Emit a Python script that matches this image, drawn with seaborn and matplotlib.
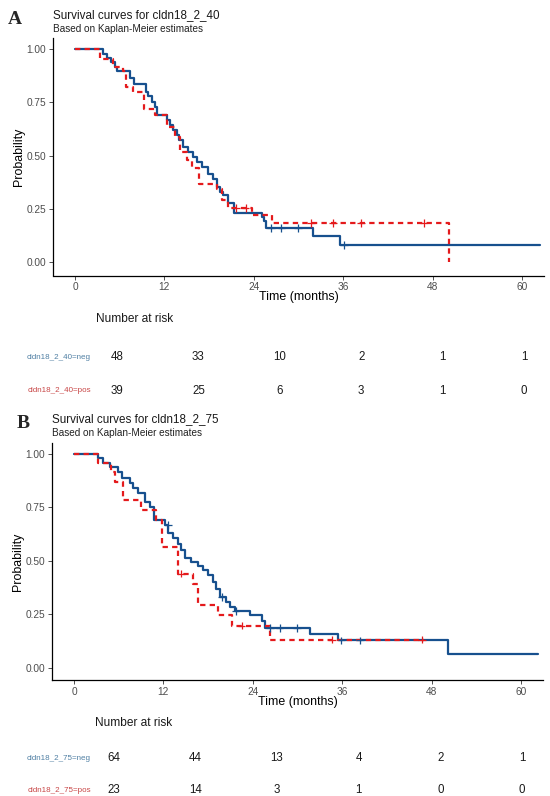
import matplotlib
matplotlib.use("Agg")
import matplotlib.pyplot as plt
import pandas as pd
import seaborn as sns

sns.set_theme(style="ticks")
plt.rcParams["font.family"] = ["Liberation Sans", "DejaVu Sans"]

W, H = 550, 796

# ---------------- data ----------------
# Panel A : cldn18_2_40
a_neg_time = [0, 3.7, 4.25, 4.9, 5.4, 5.7, 7.4, 7.9, 9.5, 9.8, 10.3, 10.7, 11.05,
              12.3, 12.75, 13.2, 13.65, 14.0, 14.45, 15.2, 15.9, 16.4, 17.1, 17.8,
              18.5, 19.0, 19.4, 19.9, 20.6, 21.3, 25.15, 25.4, 25.7, 31.9, 35.55, 62.4]
a_neg_surv = [1.0, 0.979, 0.958, 0.938, 0.917, 0.896, 0.866, 0.835, 0.80, 0.781, 0.753,
              0.729, 0.69, 0.667, 0.643, 0.62, 0.596, 0.573, 0.542, 0.518, 0.495, 0.471,
              0.448, 0.416, 0.39, 0.354, 0.33, 0.315, 0.276, 0.229, 0.213, 0.194, 0.161,
              0.122, 0.08, 0.08]
a_neg_cens_time = [26.3, 27.7, 29.9, 36.1]
a_neg_cens_surv = [0.161, 0.161, 0.161, 0.08]

a_pos_time = [0, 3.4, 5.1, 6.5, 6.9, 7.8, 9.2, 10.7, 12.3, 13.4, 14.1, 15.0, 15.7,
              16.6, 19.0, 19.7, 20.6, 23.7, 26.4, 50.2]
a_pos_surv = [1.0, 0.953, 0.917, 0.897, 0.823, 0.797, 0.721, 0.69, 0.635, 0.588, 0.518,
              0.479, 0.44, 0.369, 0.346, 0.291, 0.255, 0.22, 0.185, 0.0]
a_pos_cens_time = [21.6, 22.9, 31.7, 34.6, 38.4, 46.8]
a_pos_cens_surv = [0.255, 0.255, 0.185, 0.185, 0.185, 0.185]

# Panel B : cldn18_2_75
b_neg_time = [0, 3.25, 3.87, 4.77, 5.89, 6.47, 7.46, 7.9, 8.57, 9.47, 10.14, 10.8,
              12.16, 12.6, 13.3, 14.0, 14.4, 14.85, 15.75, 16.64, 17.3, 18.0, 18.7,
              19.1, 19.6, 20.45, 20.9, 21.6, 23.6, 25.2, 25.6, 31.65, 35.5, 50.2, 62.3]
b_neg_surv = [1.0, 0.978, 0.958, 0.939, 0.916, 0.888, 0.861, 0.838, 0.814, 0.775, 0.752,
              0.689, 0.666, 0.627, 0.604, 0.577, 0.549, 0.514, 0.494, 0.473, 0.455,
              0.431, 0.400, 0.369, 0.330, 0.306, 0.283, 0.264, 0.244, 0.220, 0.186,
              0.155, 0.127, 0.064, 0.064]
b_neg_cens_time = [12.6, 19.8, 21.7, 26.3, 27.6, 29.9, 35.9, 38.4]
b_neg_cens_surv = [0.666, 0.330, 0.264, 0.186, 0.186, 0.186, 0.127, 0.127]

b_pos_time = [0, 3.25, 5.0, 5.45, 6.6, 9.0, 11.0, 11.8, 14.0, 16.0, 16.65, 19.3, 21.2,
              26.3, 47.0]
b_pos_surv = [1.0, 0.957, 0.913, 0.870, 0.783, 0.739, 0.689, 0.565, 0.439, 0.392, 0.291,
              0.244, 0.196, 0.131, 0.131]
b_pos_cens_time = [14.4, 22.5, 34.6, 46.7]
b_pos_cens_surv = [0.439, 0.196, 0.131, 0.131]

# number at risk
risk_times = [0, 12, 24, 36, 48, 60]
a_risk_neg = [48, 33, 10, 2, 1, 1]
a_risk_pos = [39, 25, 6, 3, 1, 0]
b_risk_neg = [64, 44, 13, 4, 2, 1]
b_risk_pos = [23, 14, 3, 1, 0, 0]

x_ticks = [0, 12, 24, 36, 48, 60]
y_ticks = [0.0, 0.25, 0.50, 0.75, 1.0]

line_colors = {"neg": "#17508e", "pos": "#e41a1c"}
label_colors = {"neg": "#4f7fa3", "pos": "#c84646"}


def px_box(left, top, right, bottom):
    return [left / W, 1 - bottom / H, (right - left) / W, (bottom - top) / H]


def fy(y):
    return 1 - y / H


def km_panel(box, neg_t, neg_s, pos_t, pos_s, neg_ct, neg_cs, pos_ct, pos_cs, ylim):
    ax = fig.add_axes(box)
    curves = pd.concat([
        pd.DataFrame({"time": neg_t, "surv": neg_s, "group": "neg"}),
        pd.DataFrame({"time": pos_t, "surv": pos_s, "group": "pos"}),
    ])
    cens = pd.concat([
        pd.DataFrame({"time": neg_ct, "surv": neg_cs, "group": "neg"}),
        pd.DataFrame({"time": pos_ct, "surv": pos_cs, "group": "pos"}),
    ])
    sns.lineplot(data=curves, x="time", y="surv", hue="group", style="group",
                 palette=line_colors, dashes={"neg": "", "pos": (2.4, 1.9)},
                 drawstyle="steps-post", estimator=None, sort=False,
                 linewidth=1.6, legend=False, ax=ax)
    sns.scatterplot(data=cens, x="time", y="surv", hue="group", palette=line_colors,
                    marker="+", s=30, linewidth=0.9, legend=False, ax=ax, zorder=3)
    ax.set_xlim(-2.95, 62.95)
    ax.set_ylim(*ylim)
    ax.set_xticks(x_ticks)
    ax.set_yticks(y_ticks)
    ax.set_yticklabels([f"{v:.2f}" for v in y_ticks])
    for side in ["top", "right"]:
        ax.spines[side].set_visible(False)
    for side in ["left", "bottom"]:
        ax.spines[side].set_linewidth(0.9)
        ax.spines[side].set_color("black")
    ax.tick_params(labelsize=7.3, labelcolor="#4d4d4d", color="#333333",
                   length=3, width=0.6, pad=1.8)
    ax.set_xlabel("Time (months)", fontsize=8.9, color="black")
    ax.set_ylabel("Probability", fontsize=8.9, color="black")
    ax.xaxis.set_label_coords(0.5, -0.066)
    ax.yaxis.set_label_coords(-0.058, 0.5)
    return ax


def risk_table(box, xlim, names, neg_vals, pos_vals):
    ax = fig.add_axes(box)
    ax.set_xlim(*xlim)
    ax.set_ylim(-0.5, 1.5)
    ax.axis("off")
    for t, n in zip(risk_times, neg_vals):
        ax.text(t, 1, str(n), ha="center", va="center", fontsize=8.3, color="#1a1a1a")
    for t, n in zip(risk_times, pos_vals):
        ax.text(t, 0, str(n), ha="center", va="center", fontsize=8.3, color="#1a1a1a")
    tr = ax.get_yaxis_transform()
    ax.text(-0.009, 1, names[0], transform=tr, ha="right", va="center",
            fontsize=5.8, color=label_colors["neg"])
    ax.text(-0.009, 0, names[1], transform=tr, ha="right", va="center",
            fontsize=5.8, color=label_colors["pos"])
    return ax


fig = plt.figure(figsize=(W / 100, H / 100), dpi=100)

# ---------- panel A ----------
km_panel(px_box(53, 38, 544, 275.5), a_neg_time, a_neg_surv, a_pos_time, a_pos_surv,
         a_neg_cens_time, a_neg_cens_surv, a_pos_cens_time, a_pos_cens_surv,
         (-0.062, 1.052))
fig.text(15 / W, fy(20), "A", fontsize=14, fontweight="bold",
         family=["Liberation Serif", "DejaVu Serif"], ha="center", va="center")
fig.text(53 / W, fy(18.3), "Survival curves for cldn18_2_40", fontsize=8.4,
         color="#1a1a1a", ha="left", va="baseline")
fig.text(53 / W, fy(31.7), "Based on Kaplan-Meier estimates", fontsize=7.2,
         color="#222222", ha="left", va="baseline")
fig.text(96 / W, fy(319), "Number at risk", fontsize=8.6, color="#1a1a1a",
         ha="left", va="center")
risk_table(px_box(95, 341, 545, 407), (-3.24, 63.1),
           ["cldn18_2_40=neg", "cldn18_2_40=pos"], a_risk_neg, a_risk_pos)

# ---------- panel B ----------
km_panel(px_box(52, 443, 543, 680), b_neg_time, b_neg_surv, b_pos_time, b_pos_surv,
         b_neg_cens_time, b_neg_cens_surv, b_pos_cens_time, b_pos_cens_surv,
         (-0.058, 1.05))
fig.text(23.5 / W, fy(424), "B", fontsize=14, fontweight="bold",
         family=["Liberation Serif", "DejaVu Serif"], ha="center", va="center")
fig.text(52 / W, fy(422.3), "Survival curves for cldn18_2_75", fontsize=8.4,
         color="#1a1a1a", ha="left", va="baseline")
fig.text(52 / W, fy(436), "Based on Kaplan-Meier estimates", fontsize=7.2,
         color="#222222", ha="left", va="baseline")
fig.text(95 / W, fy(723), "Number at risk", fontsize=8.6, color="#1a1a1a",
         ha="left", va="center")
risk_table(px_box(95, 742, 545, 806), (-2.76, 63.4),
           ["cldn18_2_75=neg", "cldn18_2_75=pos"], b_risk_neg, b_risk_pos)

fig.savefig("out.png", dpi=100)
